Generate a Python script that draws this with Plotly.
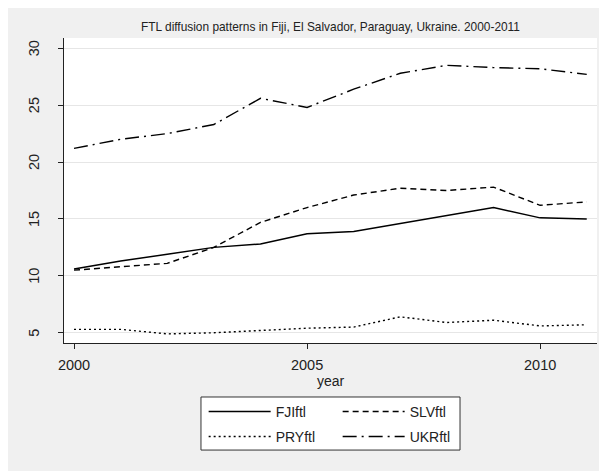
import plotly.graph_objects as go

# FTL series
years = [2000, 2001, 2002, 2003, 2004, 2005, 2006, 2007, 2008, 2009, 2010, 2011]
fji = [10.6, 11.3, 11.9, 12.5, 12.8, 13.7, 13.9, 14.6, 15.3, 16.0, 15.1, 15.0]
slv = [10.5, 10.8, 11.1, 12.5, 14.7, 16.0, 17.1, 17.7, 17.5, 17.8, 16.2, 16.5]
pry = [5.3, 5.3, 4.9, 5.0, 5.2, 5.4, 5.5, 6.4, 5.9, 6.1, 5.6, 5.7]
ukr = [21.2, 22.0, 22.5, 23.3, 25.6, 24.8, 26.4, 27.8, 28.5, 28.3, 28.2, 27.7]

names = ["FJIftl", "SLVftl", "PRYftl", "UKRftl"]
series = [fji, slv, pry, ukr]
dashes = ["solid", "6px,4px", "2px,3px", "14px,5px,2px,5px"]
legs = ["legend", "legend", "legend2", "legend2"]

yticks = [5, 10, 15, 20, 25, 30]
xticks = [2000, 2005, 2010]

fnt = "Liberation Sans, Arial, sans-serif"

fig = go.Figure()
for nm, s, d, lg in zip(names, series, dashes, legs):
    fig.add_trace(go.Scatter(x=years, y=s, name=nm, mode="lines", legend=lg,
                             line=dict(color="black", width=1.4, dash=d)))

# legend box (two legends sit on it, one per row)
fig.add_shape(type="rect", xref="paper", yref="paper",
              x0=0.257, x1=0.743, y0=-0.351, y1=-0.177,
              fillcolor="white", line=dict(color="#333", width=1))

# vertical y tick labels, Stata style (tickangle would not rotate them)
for v in yticks:
    fig.add_annotation(x=0, xref="paper", y=v, yref="y", text=str(v),
                       textangle=-90, showarrow=False, xanchor="center",
                       yanchor="middle", xshift=-30,
                       font=dict(size=14.5, color="#222"))

leg_common = dict(orientation="h", xanchor="left", yanchor="middle",
                  bgcolor="rgba(0,0,0,0)", borderwidth=0,
                  entrywidth=57, entrywidthmode="pixels", itemwidth=62,
                  font=dict(size=14))

fig.update_layout(
    width=607, height=471,
    paper_bgcolor="#f0f0f0", plot_bgcolor="white",
    margin=dict(l=56, r=18, t=30, b=136, autoexpand=False),
    font=dict(family=fnt, size=14, color="#222"),
    title=dict(text="FTL diffusion patterns in Fiji, El Salvador, Paraguay, Ukraine. 2000-2011",
               x=0.5, xref="paper", xanchor="center", y=1 - 19 / 471, yanchor="middle",
               font=dict(size=11.9, color="#222")),
    showlegend=True,
    legend=dict(x=0.262, y=-0.226, **leg_common),
    legend2=dict(x=0.262, y=-0.308, **leg_common),
)

fig.update_xaxes(range=[1999.785, 2011.22], tickvals=xticks, showgrid=False,
                 showline=True, linecolor="#222", linewidth=1,
                 ticks="outside", ticklen=5, tickcolor="#222",
                 ticklabelstandoff=4, zeroline=False, automargin=False,
                 tickfont=dict(size=14.5),
                 title=dict(text="year", standoff=2, font=dict(size=14)))
fig.update_yaxes(range=[4.1, 30.9], tickvals=yticks, showticklabels=False,
                 showgrid=True, gridcolor="#e6e6e6", gridwidth=1,
                 showline=True, linecolor="#222", linewidth=1,
                 ticks="outside", ticklen=5, tickcolor="#222",
                 zeroline=False, automargin=False)

fig.write_html("out.html")
